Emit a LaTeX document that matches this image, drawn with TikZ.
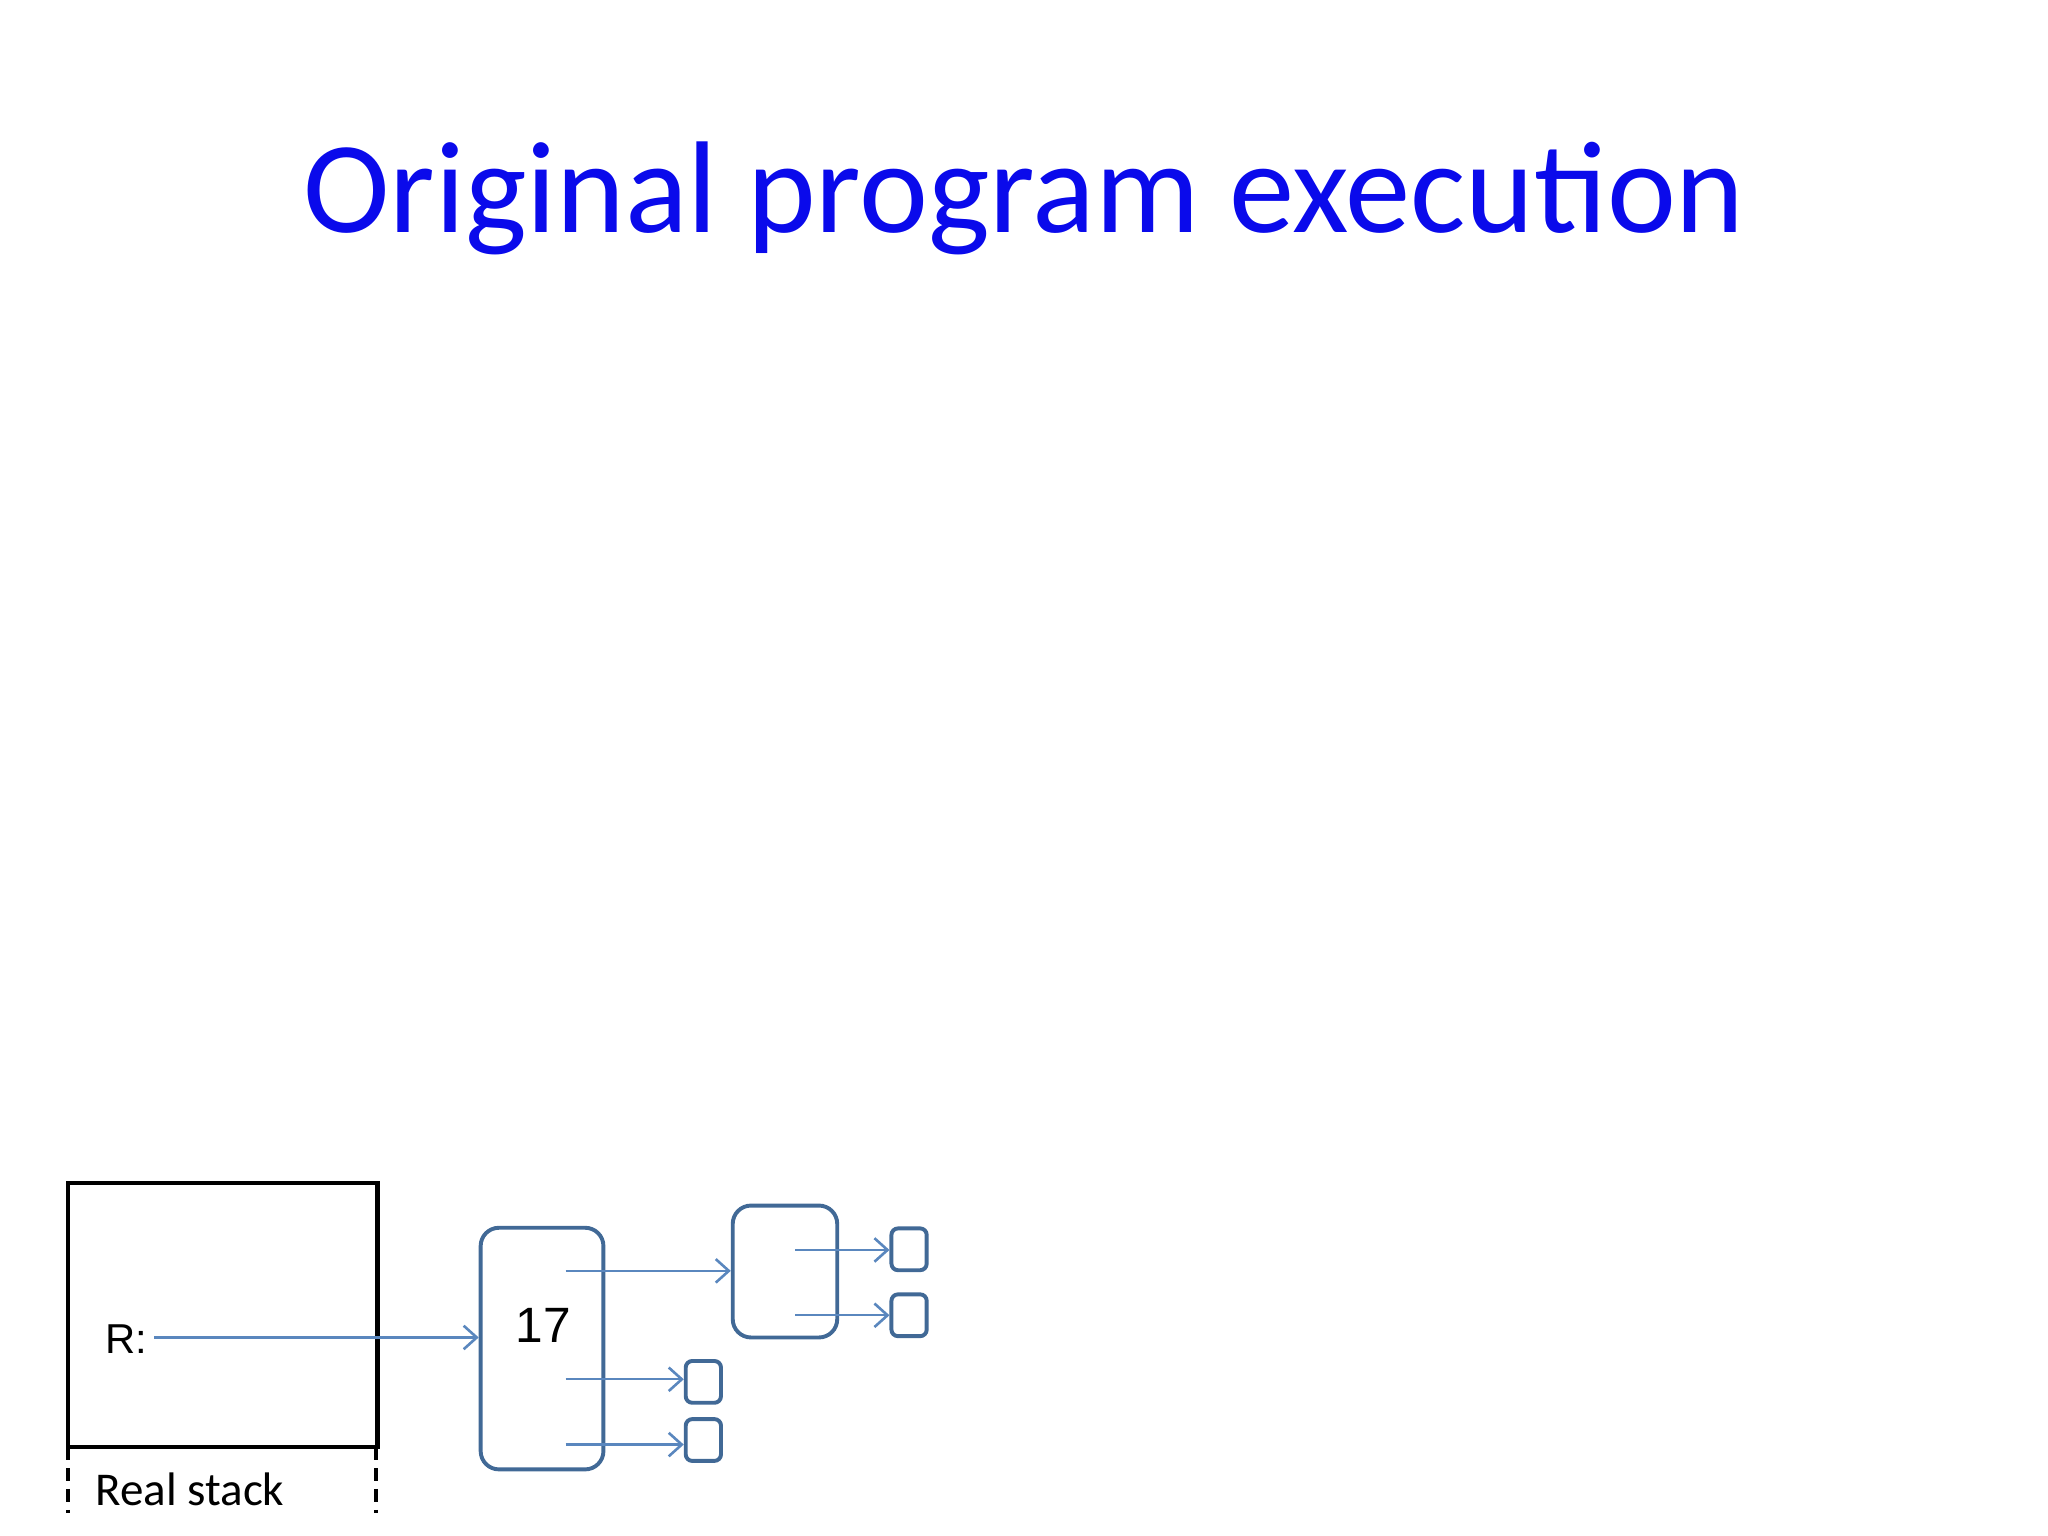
\documentclass[tikz,border=0pt]{standalone}
\usepackage{fontspec}
\setmainfont{Carlito}
\newfontfamily\arialf{Liberation Sans}
\usetikzlibrary{arrows.meta}
\definecolor{titleblue}{RGB}{10,10,235}
\definecolor{boxblue}{RGB}{65,105,150}
\definecolor{arrblue}{RGB}{90,135,190}
\tikzset{
  obj/.style={draw=boxblue, line width=1.5pt, rounded corners=7pt, inner sep=0pt},
  cell/.style={draw=boxblue, line width=1.5pt, rounded corners=2.5pt, inner sep=0pt, minimum width=13.5pt, minimum height=16pt},
  ptr/.style={draw=arrblue, line width=0.9pt, -{Straight Barb[length=5pt,width=9pt,line width=1pt]}}
}
\begin{document}
\begin{tikzpicture}[x=0.5pt,y=-0.5pt]
\useasboundingbox (0,0) rectangle (1568,1176);
\node[text=titleblue, font=\fontsize{50}{60}\selectfont] (title) at (784,152) {Original program execution};
% stack
\node[draw=black, line width=1.6pt, minimum width=118.5pt, minimum height=101pt, inner sep=0pt] (stack) at (170.5,1007) {};
\coordinate (d1a) at (52,1108); \coordinate (d1b) at (52,1158);
\coordinate (d2a) at (288,1108); \coordinate (d2b) at (288,1158);
\draw[line width=1.6pt, dashed, dash pattern=on 5pt off 3pt] (d1a) -- (d1b) (d2a) -- (d2b);
\node[font=\fontsize{18}{20}\selectfont, anchor=west] (rs) at (66,1140) {Real stack};
\node[font=\arialf\fontsize{16}{18}\selectfont] (R) at (97,1025) {R:};
% objects
\node[obj, minimum width=47pt, minimum height=92.5pt] (o17) at (415,1032.5) {};
\node[font=\arialf\fontsize{19}{20}\selectfont] (n17) at (416,1015) {17};
\node[obj, minimum width=40pt, minimum height=50.5pt] (o2) at (601,973.5) {};
\node[cell] (c1) at (538.5,1058) {};
\node[cell] (c2) at (538.5,1102.5) {};
\node[cell] (c3) at (696,956.5) {};
\node[cell] (c4) at (696,1007) {};
% pointers
\coordinate (rs0) at (118,1024);
\draw[ptr] (rs0) -- (o17.west |- rs0);
\coordinate (p1) at (433,973); \coordinate (p2) at (433,1056); \coordinate (p3) at (433,1106);
\coordinate (p4) at (609,957); \coordinate (p5) at (609,1007);
\draw[ptr] (p1) -- (o2.west |- p1);
\draw[ptr] (p2) -- (c1.west |- p2);
\draw[ptr] (p3) -- (c2.west |- p3);
\draw[ptr] (p4) -- (c3.west |- p4);
\draw[ptr] (p5) -- (c4.west |- p5);
\end{tikzpicture}
\end{document}
